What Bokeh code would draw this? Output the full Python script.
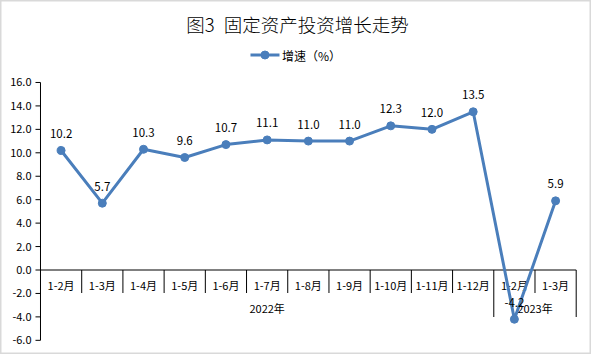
from bokeh.plotting import figure
from bokeh.models import Range1d, ColumnDataSource
from bokeh.core.properties import value
from bokeh.embed import file_html
from bokeh.resources import INLINE

# ---- data ----
categories = ["1-2月", "1-3月", "1-4月", "1-5月", "1-6月", "1-7月", "1-8月",
              "1-9月", "1-10月", "1-11月", "1-12月", "1-2月", "1-3月"]
growth = [10.2, 5.7, 10.3, 9.6, 10.7, 11.1, 11.0, 11.0, 12.3, 12.0, 13.5, -4.2, 5.9]
years = ["2022年", "2023年"]
year_counts = [11, 2]
y_ticks = [-6, -4, -2, 0, 2, 4, 6, 8, 10, 12, 14, 16]
title_text = "图3\u2002固定资产投资增长走势"
series_name = "增速（%）"

FONT = "Noto Sans CJK SC"
TITLE_FONT = "'Noto Sans CJK SC Light', 'Noto Sans CJK SC DemiLight', 'Noto Sans CJK SC'"
BLUE = "#4a7ebb"

n = len(categories)
unit_px = 41.21
y_px = 11.72
x_lo = -40 / unit_px
x_hi = n + (591 - 575.7) / unit_px
y_hi = 269.5 / y_px
y_lo = -(354 - 269.5) / y_px

p = figure(width=591, height=354, output_backend="svg", toolbar_location=None,
           x_range=Range1d(x_lo, x_hi), y_range=Range1d(y_lo, y_hi),
           min_border=0, min_border_left=0, min_border_right=0,
           min_border_top=0, min_border_bottom=0)
p.xaxis.visible = False
p.yaxis.visible = False
p.grid.visible = False
p.outline_line_color = "#d9d9d9"
p.outline_line_width = 2
p.background_fill_color = "white"
p.border_fill_color = "white"

# y axis (manual, from tick list)
ymin, ymax = y_ticks[0], y_ticks[-1]
p.segment(x0=[0], y0=[ymin], x1=[0], y1=[ymax], line_color="black", line_width=1)
tick_len = 5 / unit_px
p.segment(x0=[-tick_len] * len(y_ticks), y0=y_ticks, x1=[0] * len(y_ticks), y1=y_ticks,
          line_color="black", line_width=1)
p.text(x=[-9 / unit_px] * len(y_ticks), y=y_ticks, text=["%.1f" % t for t in y_ticks],
       text_align="right", text_baseline="middle", text_font=value(FONT),
       text_font_size="11px", text_color="#000000")

# zero line (category axis)
p.segment(x0=[0], y0=[0], x1=[n], y1=[0], line_color="black", line_width=1)

# category separators
boundaries = list(range(1, n + 1))
year_bounds = []
acc = 0
for c in year_counts:
    acc += c
    year_bounds.append(acc)
short_b = [b for b in boundaries if b not in year_bounds]
cat_depth = 23 / y_px
year_depth = 47 / y_px
p.segment(x0=short_b, y0=[0] * len(short_b), x1=short_b, y1=[-cat_depth] * len(short_b),
          line_color="black", line_width=1)
p.segment(x0=year_bounds, y0=[0] * len(year_bounds), x1=year_bounds,
          y1=[-year_depth] * len(year_bounds), line_color="black", line_width=1)

centers = [i + 0.5 for i in range(n)]
p.text(x=centers, y=[-15 / y_px] * n, text=categories, text_align="center",
       text_baseline="middle", text_font=value(FONT), text_font_size="11px",
       text_color="#000000")

# year labels
ycent = []
start = 0
for c in year_counts:
    ycent.append(start + c / 2)
    start += c
p.text(x=ycent, y=[-37.5 / y_px] * len(years), text=years, text_align="center",
       text_baseline="middle", text_font=value(FONT), text_font_size="11px",
       text_color="#000000")

# series
src = ColumnDataSource(dict(x=centers, y=growth, lbl=["%.1f" % v for v in growth]))
p.line("x", "y", source=src, line_color=BLUE, line_width=3)
p.scatter("x", "y", source=src, size=8, fill_color=BLUE, line_color=BLUE)
p.text("x", "y", text="lbl", source=src, y_offset=-17, text_align="center",
       text_baseline="middle", text_font=value(FONT), text_font_size="11.5px",
       text_color="#000000")

# title
title_y = (269.5 - 23) / y_px
p.text(x=[(297 - 40) / unit_px], y=[title_y], text=[title_text], text_align="center",
       text_baseline="middle", text_font=value(TITLE_FONT), text_font_size="18.5px",
       text_color="#000000")

# legend (manual)
leg_y = (269.5 - 54.5) / y_px
lx0 = (250 - 40) / unit_px
lx1 = (279 - 40) / unit_px
p.segment(x0=[lx0], y0=[leg_y], x1=[lx1], y1=[leg_y], line_color=BLUE, line_width=3)
p.scatter(x=[(lx0 + lx1) / 2], y=[leg_y], size=8, fill_color=BLUE, line_color=BLUE)
p.text(x=[(281.5 - 40) / unit_px], y=[leg_y], text=[series_name], text_align="left",
       text_baseline="middle", text_font=value(FONT), text_font_size="12px",
       text_color="#000000")

open("out.html", "w").write(file_html(p, INLINE))
